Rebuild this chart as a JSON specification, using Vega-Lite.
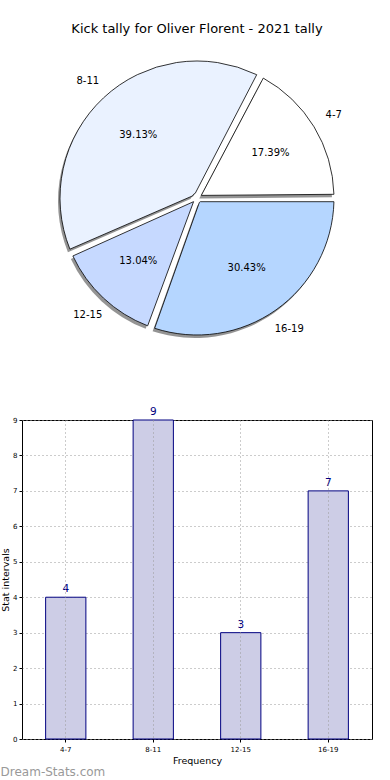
{
  "$schema": "https://vega.github.io/schema/vega-lite/v6.json",
  "padding": {"top": 23, "left": 0, "right": 20, "bottom": 0},
  "background": "white",
  "spacing": 56,
  "config": {"font": "DejaVu Sans", "view": {"stroke": null}},
  "data": {"values": [
    {"interval": "4-7", "low": 4, "count": 4, "share": "17.39%"},
    {"interval": "8-11", "low": 8, "count": 9, "share": "39.13%"},
    {"interval": "12-15", "low": 12, "count": 3, "share": "13.04%"},
    {"interval": "16-19", "low": 16, "count": 7, "share": "30.43%"}
  ]},
  "vconcat": [
    {
      "width": 350,
      "height": 304,
      "title": {"text": "Kick tally for Oliver Florent - 2021 tally", "fontSize": 13, "fontWeight": "normal", "color": "black", "offset": 10, "anchor": "middle"},
      "encoding": {
        "theta": {"field": "count", "type": "quantitative", "stack": true, "scale": {"range": [1.5708, -4.7124]}},
        "order": {"field": "low", "type": "quantitative"}
      },
      "layer": [
        {"mark": {"type": "arc", "outerRadius": 137, "innerRadius": 5, "padAngle": 0.054, "fill": "#707070", "opacity": 0.75, "xOffset": -2, "yOffset": 3}},
        {"mark": {"type": "arc", "outerRadius": 137, "innerRadius": 5, "padAngle": 0.054, "stroke": "black", "strokeWidth": 0.8},
         "encoding": {"color": {"field": "interval", "type": "nominal", "scale": {"domain": ["4-7", "8-11", "12-15", "16-19"], "range": ["#ffffff", "#eaf2ff", "#c6d9ff", "#b5d6ff"]}, "legend": null}}},
        {"mark": {"type": "text", "radius": 86, "fontSize": 10, "color": "black"}, "encoding": {"text": {"field": "share"}}},
        {"mark": {"type": "text", "radius": 160, "fontSize": 10, "color": "black"}, "encoding": {"text": {"field": "interval"}}}
      ]
    },
    {
      "width": 350,
      "height": 319,
      "view": {"stroke": "black", "strokeWidth": 1},
      "title": {"text": "Dream-Stats.com", "orient": "bottom", "anchor": "start", "frame": "bounds", "fontSize": 12, "fontWeight": "normal", "color": "#999999", "offset": 2},
      "encoding": {
        "x": {"field": "interval", "type": "nominal", "sort": ["4-7", "8-11", "12-15", "16-19"],
              "scale": {"paddingInner": 0.54, "paddingOuter": 0.27},
              "axis": {"title": "Frequency", "labelAngle": 0, "labelFontSize": 7, "labelColor": "black", "titleFontSize": 9.5, "titleFontWeight": "normal", "titleColor": "black", "titlePadding": 3, "grid": true, "gridDash": [1, 3], "gridColor": "#999999", "domain": false, "tickSize": 3, "tickColor": "black", "labelPadding": 3, "zindex": 1}},
        "y": {"field": "count", "type": "quantitative", "scale": {"domain": [0, 9], "nice": false},
              "axis": {"title": "Stat intervals", "values": [0, 1, 2, 3, 4, 5, 6, 7, 8, 9], "labelFontSize": 7, "labelColor": "black", "titleFontSize": 9.5, "titleFontWeight": "normal", "titleColor": "black", "titlePadding": 2, "grid": true, "gridDash": [1, 3], "gridColor": "#999999", "domain": false, "tickSize": 3, "tickColor": "black", "labelPadding": 2}}
      },
      "layer": [
        {"mark": {"type": "bar", "fill": "#cdcde6", "stroke": "#000080", "strokeWidth": 1}},
        {"mark": {"type": "text", "baseline": "bottom", "dy": -3, "fontSize": 10.5, "color": "#000080"}, "encoding": {"text": {"field": "count"}}}
      ]
    }
  ]
}
